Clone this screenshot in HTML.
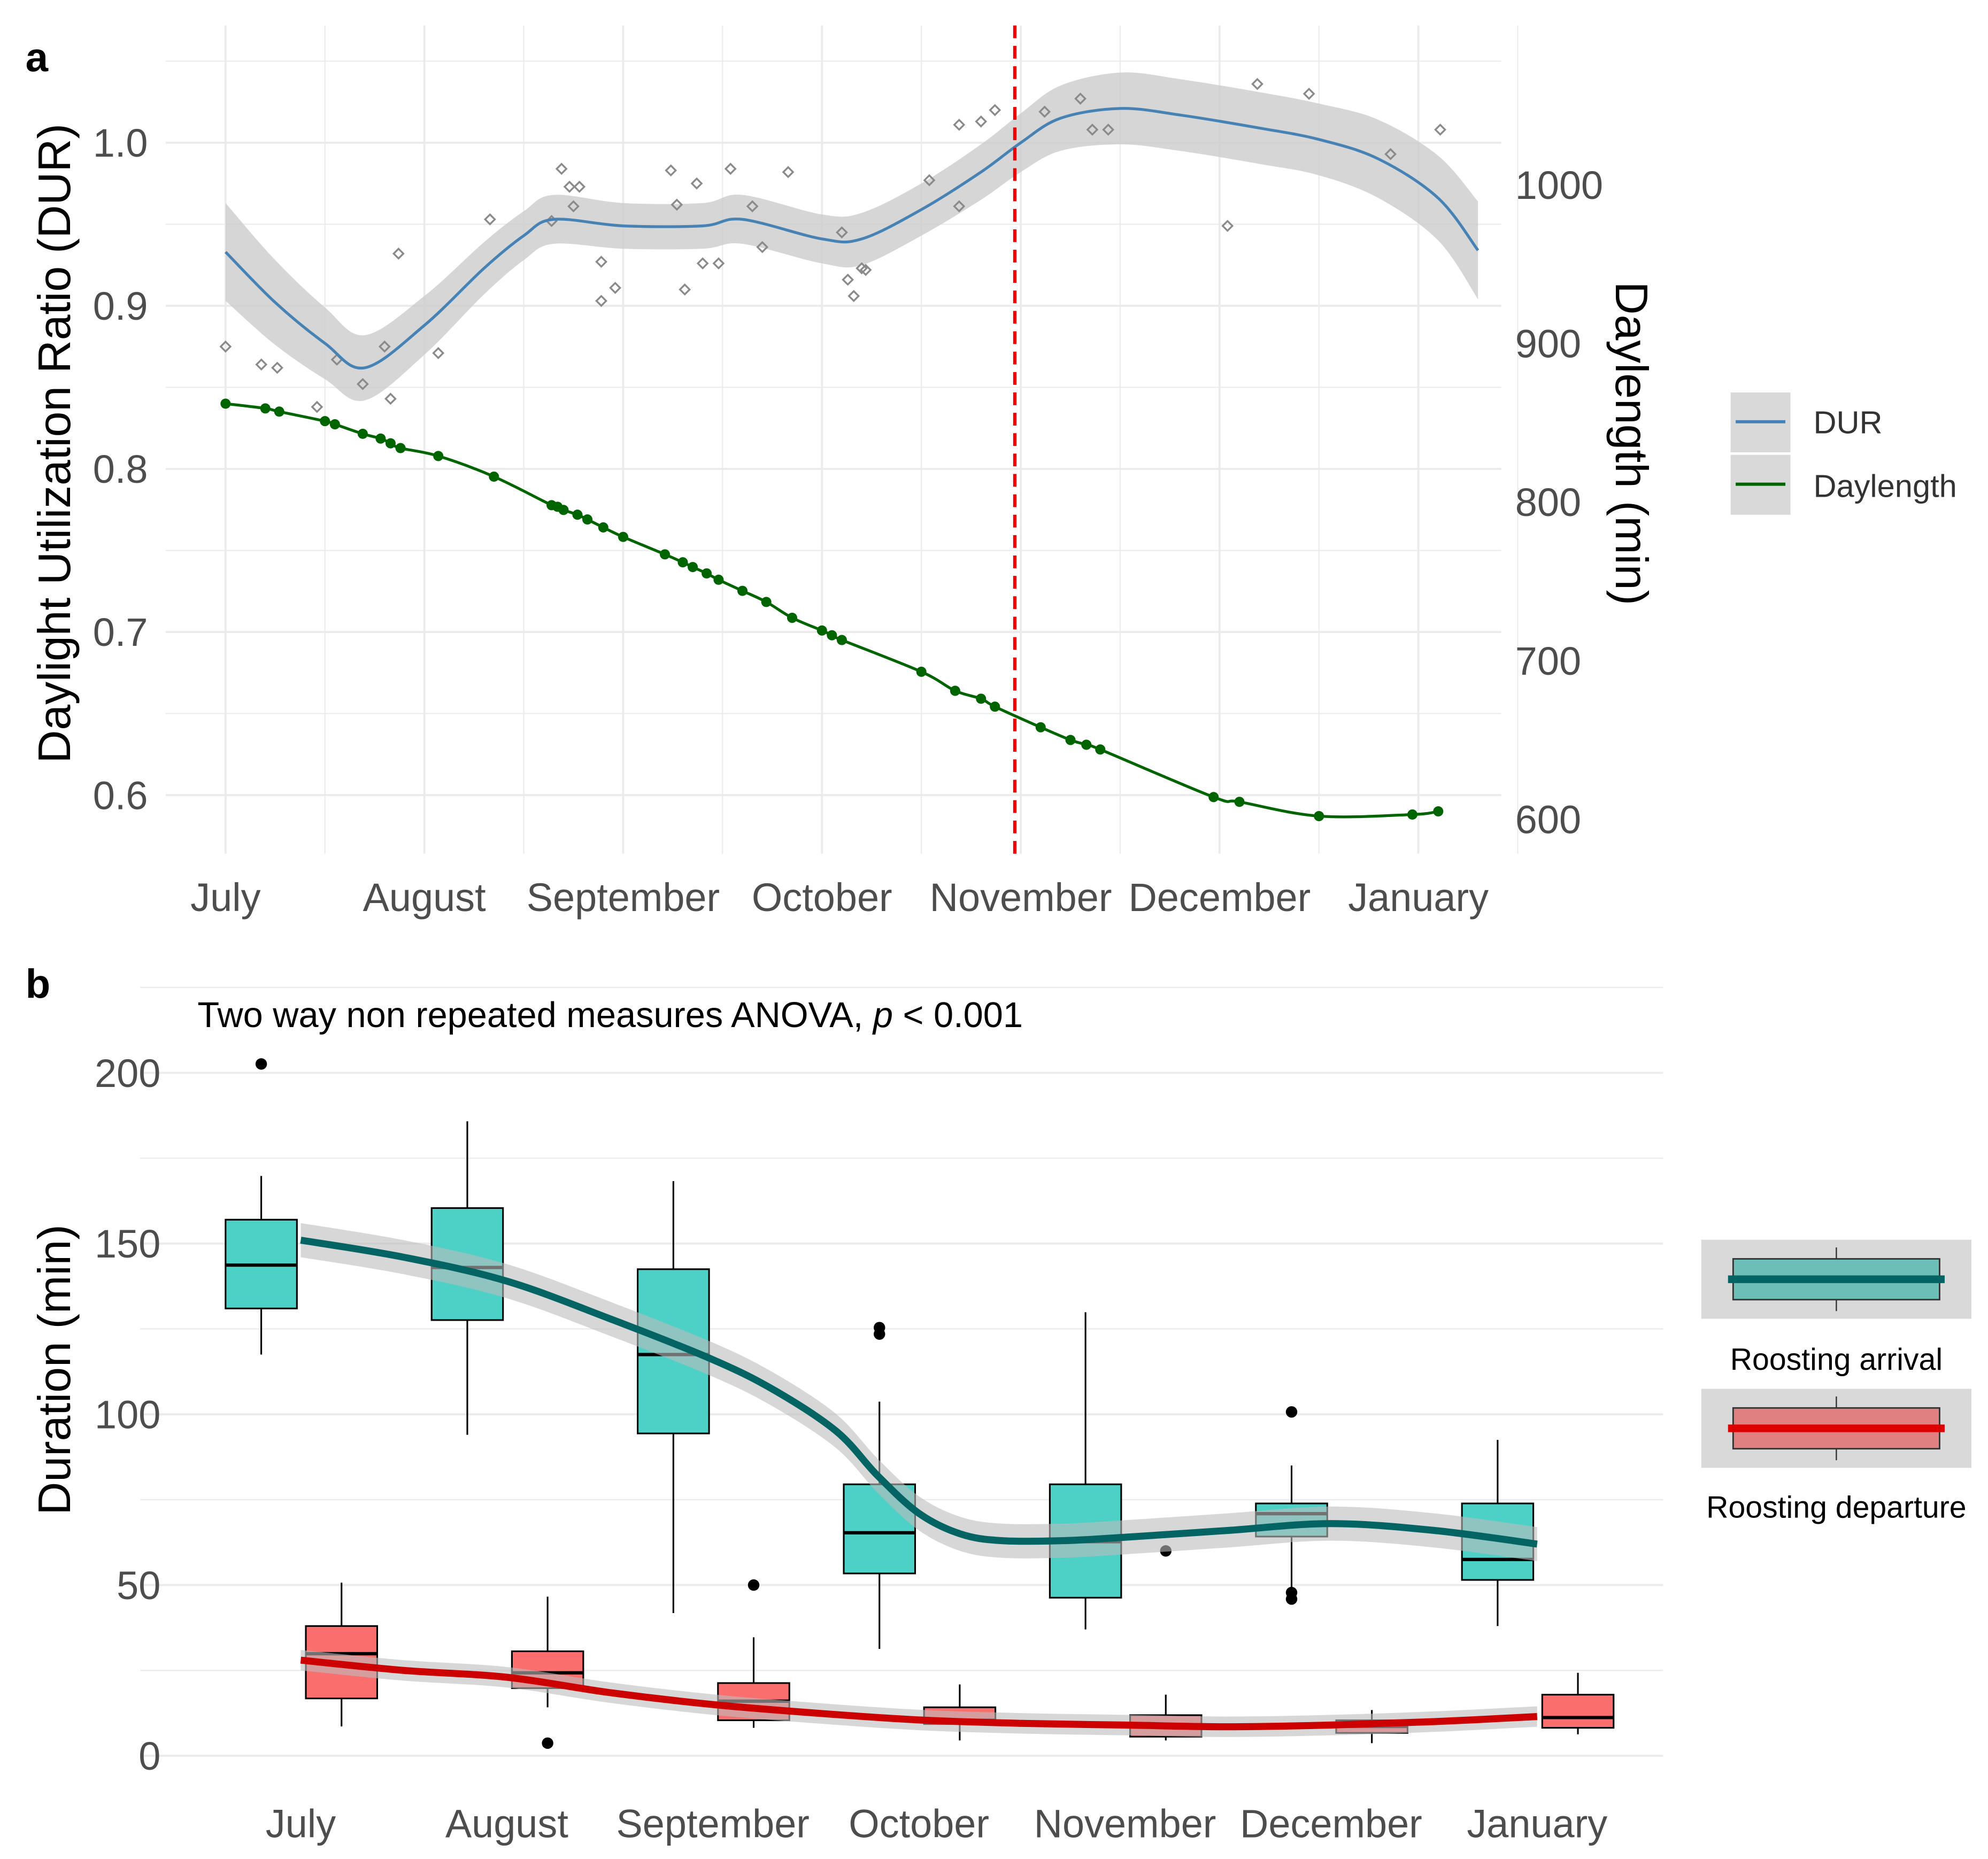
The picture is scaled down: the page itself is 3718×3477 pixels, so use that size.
<!DOCTYPE html>
<html><head><meta charset="utf-8">
<style>
html,body{margin:0;padding:0;background:#fff;}
svg{display:block;}
text{font-family:"Liberation Sans",Arial,sans-serif;}
</style></head>
<body>
<svg id="chart" xmlns="http://www.w3.org/2000/svg" width="3718" height="3477" viewBox="0 0 1560 1459" preserveAspectRatio="none">
<rect width="1560" height="1459" fill="#fff"/>
<g id="pa"></g>
<g id="pb"></g>
</svg>
<script>
// ---------- Panel A data ----------
const monthLabels = ["July","August","September","October","November","December","January"];
const durTicks = [0.6,0.7,0.8,0.9,1.0];
const dayTicks = [600,700,800,900,1000];
const durSmoothX = [0,0.25,0.5,0.7,1.0,1.3,1.5,1.65,2.0,2.4,2.6,3.0,3.2,3.5,3.8,4.0,4.2,4.5,4.8,5.2,5.5,5.8,6.1,6.3];
const durSmoothY = [0.933,0.902,0.877,0.862,0.888,0.923,0.943,0.953,0.949,0.949,0.953,0.941,0.941,0.959,0.982,1.0,1.015,1.021,1.017,1.009,1.002,0.990,0.966,0.934];
const durSE = [0.03,0.026,0.022,0.02,0.018,0.016,0.015,0.015,0.014,0.014,0.015,0.015,0.016,0.016,0.017,0.018,0.02,0.022,0.022,0.022,0.022,0.024,0.026,0.03];
const durPtsX = [0,0.18,0.26,0.46,0.56,0.69,0.8,0.87,0.83,1.07,1.33,1.64,1.69,1.73,1.78,1.75,1.89,1.96,1.89,2.24,2.27,2.37,2.31,2.4,2.48,2.54,2.65,2.7,2.83,3.1,3.13,3.16,3.2,3.22,3.54,3.69,3.69,3.8,3.87,4.12,4.3,4.36,4.44,5.04,5.19,5.45,5.86,6.11];
const durPtsY = [0.875,0.864,0.862,0.838,0.867,0.852,0.875,0.932,0.843,0.871,0.953,0.952,0.984,0.973,0.973,0.961,0.927,0.911,0.903,0.983,0.962,0.975,0.91,0.926,0.926,0.984,0.961,0.936,0.982,0.945,0.916,0.906,0.923,0.922,0.977,1.011,0.961,1.013,1.02,1.019,1.027,1.008,1.008,0.949,1.036,1.03,0.993,1.008];
const dayX = [0,0.2,0.27,0.5,0.55,0.69,0.78,0.83,0.88,1.07,1.35,1.64,1.67,1.7,1.77,1.82,1.9,2.0,2.21,2.3,2.35,2.42,2.48,2.6,2.72,2.85,3.0,3.05,3.1,3.5,3.67,3.8,3.87,4.1,4.25,4.33,4.4,4.97,5.1,5.5,5.97,6.1];
const dayY = [862,859,857,851,849,843,840,837,834,829,816,798,797,795,792,789,784,778,767,762,759,755,751,744,737,727,719,716,713,693,681,676,671,658,650,647,644,614,611,602,603,605];
const vlineMonth = 3.97;

// ---------- Panel B data ----------
const catLabels = ["July","August","September","October","November","December","January"];
const durBTicks = [0,50,100,150,200];
const arrLow = [117.5,94,41.8,31.3,37,47.8,38];
const arrQ1 = [131,127.6,94.4,53.4,46.3,64.2,51.5];
const arrMed = [143.7,143,117.5,65.3,62.7,70.9,57.5];
const arrQ3 = [157,160.4,142.5,79.5,79.5,73.9,73.9];
const arrHigh = [169.8,185.8,168.3,103.7,129.9,85,92.5];
const arrOutCat = [0,3,3,5,5,5];
const arrOutVal = [202.6,125.4,123.5,100.7,47.8,45.9];
const depLow = [8.6,14.2,8.2,4.5,4.5,3.7,6.3];
const depQ1 = [16.8,19.8,10.4,9.3,5.6,6.7,8.2];
const depMed = [29.9,24.3,16,10.4,8.6,8.6,11.2];
const depQ3 = [38,30.6,21.3,14.2,11.9,10.4,17.9];
const depHigh = [50.7,46.6,34.7,20.9,17.9,13.4,24.3];
const depOutCat = [1,2,4];
const depOutVal = [3.7,50,60];
const arrSmX = [0,0.5,1,1.5,2,2.3,2.6,2.8,3,3.2,3.4,3.7,4,4.5,5,5.5,6];
const arrSmY = [151,146,139,128,116,107,95,82,71,65,63,63,64,66,68,66,62];
const depSmX = [0,0.5,1,1.5,2,2.5,3,3.5,4,4.5,5,5.5,6];
const depSmY = [28,25,23,18.5,15,12.5,10.5,9.5,9,8.5,9,10,11.5];

const NS="http://www.w3.org/2000/svg";
function mk(parent,tag,attrs,txt){const e=document.createElementNS(NS,tag);for(const k in attrs)e.setAttribute(k,attrs[k]);if(txt!==undefined)e.textContent=txt;parent.appendChild(e);return e;}
function spline(pts){
  let d="M"+pts[0][0]+","+pts[0][1];
  for(let i=0;i<pts.length-1;i++){const p0=pts[i-1]||pts[i],p1=pts[i],p2=pts[i+1],p3=pts[i+2]||p2;
    const c1=[p1[0]+(p2[0]-p0[0])/6,p1[1]+(p2[1]-p0[1])/6],c2=[p2[0]-(p3[0]-p1[0])/6,p2[1]-(p3[1]-p1[1])/6];
    d+=" C"+c1+" "+c2+" "+p2;}
  return d;}
function splineCont(pts){return spline(pts).replace(/^M/,"L");}

// ---------- Panel A ----------
const A=document.getElementById('pa');
const ax=m=>177+m*156;
const ayL=v=>624-(v-0.6)*1280;
const ayR=v=>643-(v-600)*1.245;
const aL=130,aR=1178,aT=20,aB=670;
for(let v=0.55;v<=1.06;v+=0.05){const y=ayL(v);if(y<aT||y>aB)continue;
  const g=mk(A,'line',{x1:aL,x2:aR,y1:y,y2:y,stroke:'#ebebeb','stroke-width':Math.abs((v*10)%1)<0.01||Math.abs((v*10)%1-1)<0.01?1.6:0.9});
  }
for(let m=0;m<=6.5;m+=0.5){const x=ax(m);
  const g=mk(A,'line',{x1:x,x2:x,y1:aT,y2:aB,stroke:'#ebebeb','stroke-width':m%1===0?1.6:0.9});
  }
const up=durSmoothX.map((m,i)=>[ax(m),ayL(durSmoothY[i]+durSE[i])]);
const lo=durSmoothX.map((m,i)=>[ax(m),ayL(durSmoothY[i]-durSE[i])]).reverse();
const rib=mk(A,'path',{d:spline(up)+" "+splineCont(lo)+"Z",fill:'#cccccc','fill-opacity':0.8});

durPtsX.forEach((m,i)=>{const x=ax(m),y=ayL(durPtsY[i]);
  const p=mk(A,'path',{d:`M${x},${y-3.8}L${x+3.8},${y}L${x},${y+3.8}L${x-3.8},${y}Z`,fill:'none',stroke:'#8a8a8a','stroke-width':1.4});
  });
const durLine=mk(A,'path',{d:spline(durSmoothX.map((m,i)=>[ax(m),ayL(durSmoothY[i])])),fill:'none',stroke:'#4682b4','stroke-width':2.2});

const dl=mk(A,'path',{d:spline(dayX.map((m,i)=>[ax(m),ayR(dayY[i])])),fill:'none',stroke:'#006400','stroke-width':2.2});

dayX.forEach((m,i)=>{const c=mk(A,'circle',{cx:ax(m),cy:ayR(dayY[i]),r:4,fill:'#006400'});
  });
const vl=mk(A,'line',{x1:ax(vlineMonth),x2:ax(vlineMonth),y1:aT,y2:aB,stroke:'#ee0000','stroke-width':2.6,'stroke-dasharray':'10,6'});

durTicks.forEach(v=>{const t=mk(A,'text',{x:116,y:ayL(v)+11,'text-anchor':'end','font-size':31,fill:'#4d4d4d'},v.toFixed(1));
  });
dayTicks.forEach(v=>{const t=mk(A,'text',{x:1189,y:ayR(v)+11,'font-size':31,fill:'#4d4d4d'},String(v));
  });
monthLabels.forEach((l,i)=>{const t=mk(A,'text',{x:ax(i),y:715,'text-anchor':'middle','font-size':31,fill:'#4d4d4d'},l);
  });
let t=mk(A,'text',{x:0,y:0,transform:'translate(55,348) rotate(-90)','text-anchor':'middle','font-size':36,fill:'#000'},'Daylight Utilization Ratio (DUR)');

t=mk(A,'text',{x:0,y:0,transform:'translate(1268,348) rotate(90)','text-anchor':'middle','font-size':36,fill:'#000'},'Daylength (min)');

t=mk(A,'text',{x:20,y:56,'font-size':32,'font-weight':'bold',fill:'#000'},'a');

let lg=mk(A,'g',{});
mk(lg,'rect',{x:1358,y:308,width:47,height:47,fill:'#d9d9d9'});
mk(lg,'line',{x1:1362,x2:1401,y1:331,y2:331,stroke:'#4682b4','stroke-width':2.5});
mk(lg,'rect',{x:1358,y:357,width:47,height:47,fill:'#d9d9d9'});
mk(lg,'line',{x1:1362,x2:1401,y1:380,y2:380,stroke:'#006400','stroke-width':2.5});
t=mk(lg,'text',{x:1423,y:340,'font-size':25,fill:'#333'},'DUR');
t=mk(lg,'text',{x:1423,y:390,'font-size':25,fill:'#333'},'Daylength');

// ---------- Panel B ----------
const B=document.getElementById('pb');
const bx=i=>236+i*161.7;
const by=v=>1378-v*2.68;
const bL=110,bR=1305;
for(let v=0;v<=225;v+=25){const y=by(v);
  const g=mk(B,'line',{x1:bL,x2:bR,y1:y,y2:y,stroke:'#ebebeb','stroke-width':v%50===0?1.6:1});
  }
function box(i,off,lo,q1,md,q3,hi,fill,name){
  const g=mk(B,'g',{});
  const x=bx(i)+off,w=56;
  mk(g,'line',{x1:x,x2:x,y1:by(lo),y2:by(hi),stroke:'#000','stroke-width':1.3});
  mk(g,'rect',{x:x-w/2,y:by(q3),width:w,height:by(q1)-by(q3),fill:fill,stroke:'#000','stroke-width':1.3});
  mk(g,'line',{x1:x-w/2,x2:x+w/2,y1:by(md),y2:by(md),stroke:'#000','stroke-width':2.6});}
arrMed.forEach((m,i)=>box(i,-31,arrLow[i],arrQ1[i],m,arrQ3[i],arrHigh[i],'#4dd0c6','arrival-box-'+catLabels[i].toLowerCase()));
depMed.forEach((m,i)=>box(i,32,depLow[i],depQ1[i],m,depQ3[i],depHigh[i],'#fa6e6e','departure-box-'+catLabels[i].toLowerCase()));
arrOutCat.forEach((c,i)=>{const e=mk(B,'circle',{cx:bx(c)-31,cy:by(arrOutVal[i]),r:4.5,fill:'#000'});
  });
depOutCat.forEach((c,i)=>{const e=mk(B,'circle',{cx:bx(c)+32,cy:by(depOutVal[i]),r:4.5,fill:'#000'});
  });
function smooth(xs,ys,band,col,name){
  const u=xs.map((c,i)=>[bx(c),by(ys[i]+band)]),l=xs.map((c,i)=>[bx(c),by(ys[i]-band)]).reverse();
  const r=mk(B,'path',{d:spline(u)+" "+splineCont(l)+"Z",fill:'#bdbdbd','fill-opacity':0.6});
  
  const p=mk(B,'path',{d:spline(xs.map((c,i)=>[bx(c),by(ys[i])])),fill:'none',stroke:col,'stroke-width':5.5});
  }
smooth(arrSmX,arrSmY,5,'#046464','arrival-smooth');
smooth(depSmX,depSmY,3,'#cc0000','departure-smooth');
durBTicks.forEach(v=>{const e=mk(B,'text',{x:126,y:by(v)+11,'text-anchor':'end','font-size':31,fill:'#4d4d4d'},String(v));
  });
catLabels.forEach((l,i)=>{const e=mk(B,'text',{x:bx(i),y:1442,'text-anchor':'middle','font-size':31,fill:'#4d4d4d'},l);
  });
t=mk(B,'text',{x:0,y:0,transform:'translate(55,1075) rotate(-90)','text-anchor':'middle','font-size':36,fill:'#000'},'Duration (min)');

t=mk(B,'text',{x:20,y:783,'font-size':32,'font-weight':'bold',fill:'#000'},'b');

t=mk(B,'text',{x:155,y:806,'font-size':28,fill:'#000'});

t.innerHTML='Two way non repeated measures ANOVA, <tspan font-style="italic">p</tspan> &lt; 0.001';
lg=mk(B,'g',{});
function lkey(y,fill,col){mk(lg,'rect',{x:1335,y:y,width:212,height:62,fill:'#d9d9d9'});
  mk(lg,'line',{x1:1441,x2:1441,y1:y+6,y2:y+56,stroke:'#333','stroke-width':1});
  mk(lg,'rect',{x:1360,y:y+15,width:162,height:32,fill:fill,stroke:'#333','stroke-width':1.2});
  mk(lg,'line',{x1:1356,x2:1526,y1:y+31,y2:y+31,stroke:col,'stroke-width':6});}
lkey(973,'#6cbfb6','#046464');lkey(1090,'#e08080','#dd0000');
t=mk(lg,'text',{x:1441,y:1075,'text-anchor':'middle','font-size':24,fill:'#000'},'Roosting arrival');
t=mk(lg,'text',{x:1441,y:1191,'text-anchor':'middle','font-size':24,fill:'#000'},'Roosting departure');
</script>
</body></html>
